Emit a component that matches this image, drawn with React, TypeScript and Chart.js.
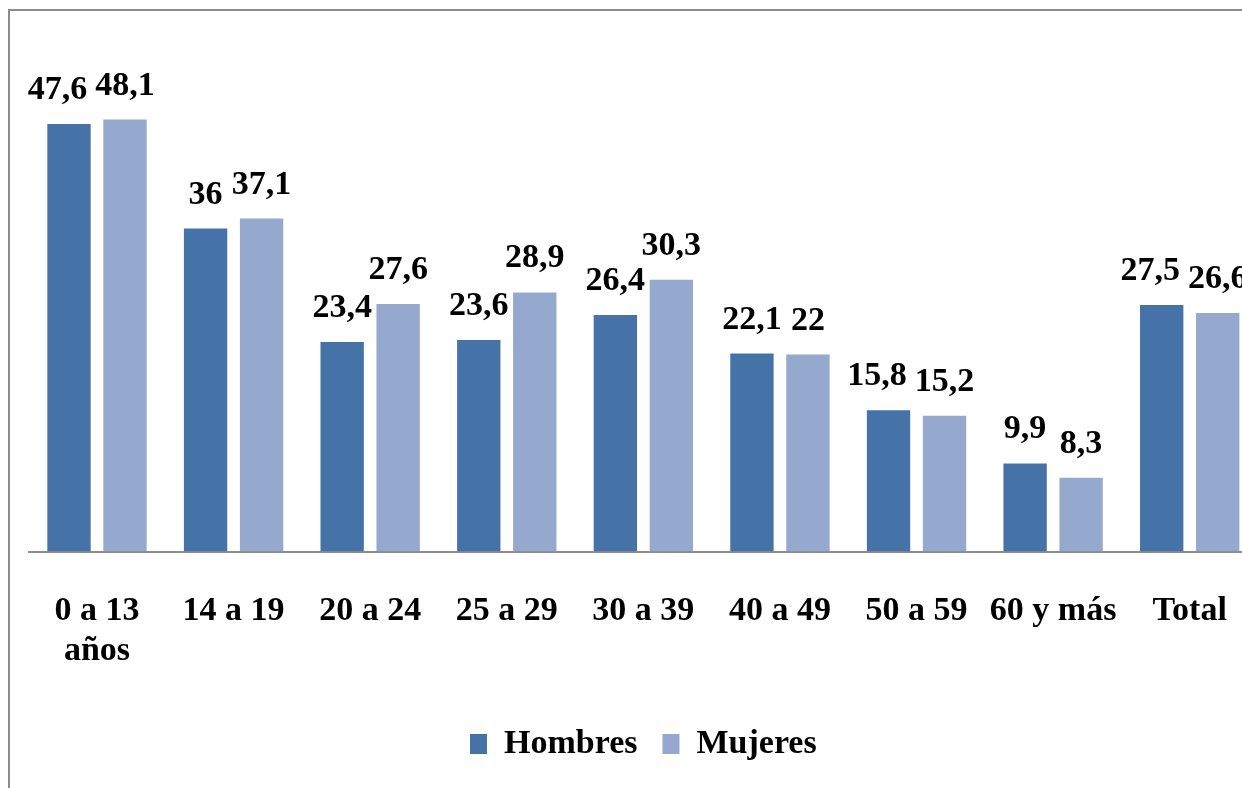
import React, { useEffect, useRef } from "react";
import { Chart, registerables } from "chart.js";

Chart.register(...registerables);

// ---- Data ----
const categories: (string | string[])[] = [
  ["0 a 13", "años"],
  "14 a 19",
  "20 a 24",
  "25 a 29",
  "30 a 39",
  "40 a 49",
  "50 a 59",
  "60 y más",
  "Total",
];
const seriesNames = ["Hombres", "Mujeres"];
const hombres = [47.6, 36, 23.4, 23.6, 26.4, 22.1, 15.8, 9.9, 27.5];
const mujeres = [48.1, 37.1, 27.6, 28.9, 30.3, 22, 15.2, 8.3, 26.6];
const yMin = 0;
const yMax = 60;

// ---- Style ----
const COLOR_H = "#4673a7";
const COLOR_M = "#95a9cf";
const FONT_FAMILY = "'Liberation Serif', 'Times New Roman', serif";
const CANVAS_W = 1300;
const CANVAS_H = 788;

const fmt = (v: number) => String(v).replace(".", ",");

const valueLabels = {
  id: "valueLabels",
  afterDatasetsDraw(chart: any) {
    const ctx = chart.ctx as CanvasRenderingContext2D;
    ctx.save();
    ctx.font = `bold 34px ${FONT_FAMILY}`;
    ctx.fillStyle = "#000";
    ctx.textAlign = "center";
    ctx.textBaseline = "alphabetic";
    const m0 = chart.getDatasetMeta(0);
    const m1 = chart.getDatasetMeta(1);
    const d0 = chart.data.datasets[0].data as number[];
    const d1 = chart.data.datasets[1].data as number[];
    const gapAbove = 24;
    const minSep = 8;
    for (let i = 0; i < d0.length; i++) {
      const b0 = m0.data[i];
      const b1 = m1.data[i];
      const t0 = fmt(d0[i]);
      const t1 = fmt(d1[i]);
      const w0 = ctx.measureText(t0).width;
      const w1 = ctx.measureText(t1).width;
      let x0 = b0.x;
      const y0 = b0.y - gapAbove;
      const x1 = b1.x;
      const y1 = b1.y - gapAbove;
      if (Math.abs(y0 - y1) < 24) {
        const overlap = x0 + w0 / 2 + minSep - (x1 - w1 / 2);
        if (overlap > 0) x0 -= overlap;
      }
      ctx.fillText(t0, x0, y0);
      ctx.fillText(t1, x1, y1);
    }
    ctx.restore();
  },
};

export default function App() {
  const canvasRef = useRef<HTMLCanvasElement | null>(null);

  useEffect(() => {
    if (!canvasRef.current) return;
    const chart = new Chart(canvasRef.current, {
      type: "bar",
      data: {
        labels: categories,
        datasets: [
          {
            label: seriesNames[0],
            data: hombres,
            backgroundColor: COLOR_H,
            borderColor: "rgba(255,255,255,0.45)",
            borderWidth: 1,
            categoryPercentage: 0.82,
            barPercentage: 0.81,
          },
          {
            label: seriesNames[1],
            data: mujeres,
            backgroundColor: COLOR_M,
            borderColor: "rgba(255,255,255,0.45)",
            borderWidth: 1,
            categoryPercentage: 0.82,
            barPercentage: 0.81,
          },
        ],
      },
      options: {
        responsive: false,
        animation: false,
        devicePixelRatio: 1,
        layout: {
          padding: { left: 28.7, right: CANVAS_W - 1258, top: 11.5, bottom: 17 },
        },
        scales: {
          x: {
            grid: { display: true, drawOnChartArea: false, drawTicks: false },
            border: { display: true, color: "#8c8c8c", width: 2 },
            ticks: {
              color: "#000",
              font: { family: FONT_FAMILY, size: 34, weight: "bold" },
              padding: 39,
              autoSkip: false,
              maxRotation: 0,
              minRotation: 0,
            },
            afterFit: (scale: any) => {
              scale.height = 150.5;
            },
          },
          y: {
            display: false,
            min: yMin,
            max: yMax,
            grid: { display: false },
          },
        },
        plugins: {
          legend: {
            position: "bottom",
            labels: {
              color: "#000",
              font: { family: FONT_FAMILY, size: 34, weight: "bold" },
              boxWidth: 17,
              boxHeight: 20,
              padding: 25,
              generateLabels: (ch: any) =>
                ch.data.datasets.map((ds: any, i: number) => ({
                  text: ds.label,
                  fillStyle: ds.backgroundColor,
                  strokeStyle: ds.backgroundColor,
                  lineWidth: 0,
                  hidden: false,
                  datasetIndex: i,
                  fontColor: "#000",
                })),
            },
          },
          title: { display: false },
          tooltip: { enabled: false },
        },
      },
      plugins: [valueLabels],
    });
    return () => chart.destroy();
  }, []);

  return (
    <div
      style={{
        position: "fixed",
        left: 0,
        top: 0,
        width: 1242,
        height: 788,
        overflow: "hidden",
        background: "#fff",
      }}
    >
      <div
        style={{
          position: "absolute",
          left: 8,
          top: 9,
          width: 1400,
          height: 1000,
          border: "2px solid #8c8c8c",
          boxSizing: "border-box",
        }}
      />
      <canvas
        ref={canvasRef}
        width={CANVAS_W}
        height={CANVAS_H}
        style={{ position: "absolute", left: 0, top: 0, width: CANVAS_W, height: CANVAS_H }}
      />
    </div>
  );
}
